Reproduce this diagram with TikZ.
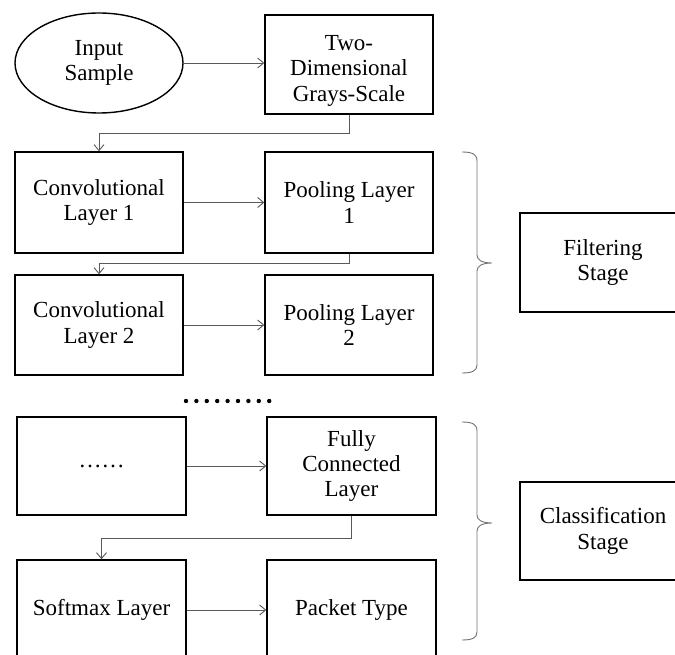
\documentclass[tikz,border=0pt]{standalone}
\usepackage{fontspec}
\setmainfont{Liberation Serif}
\usetikzlibrary{shapes.geometric,arrows.meta}
\begin{document}
\begin{tikzpicture}[x=1pt,y=-1pt,
 box/.style={draw=black,line width=1.4pt,minimum width=168pt,minimum height=99pt,inner sep=0pt,align=center,font=\fontsize{23}{25.5}\selectfont},
 conn/.style={draw=black!65,line width=0.9pt,-{Straight Barb[length=6pt,width=10pt]}},
 brc/.style={draw=black!55,line width=0.9pt}]
\useasboundingbox (0,0) rectangle (675,655);
\clip (0,0) rectangle (675,655);
% top row
\node[box,ellipse,minimum width=168pt,minimum height=100pt] (inp) at (99,63) {Input\\Sample};
\node[box] (two) at (349,64.5) {\raisebox{-6pt}[\height][\depth]{\setlength{\tabcolsep}{0pt}\begin{tabular}{c}Two-\\Dimensional\\Grays-Scale\end{tabular}}};
% filtering layers
\node[box,minimum height=101pt] (conv1) at (99,202.5) {Convolutional\\Layer 1};
\node[box,minimum height=101pt] (pool1) at (349,202.5) {Pooling Layer\\1};
\node[box,minimum height=100pt] (conv2) at (99,325) {Convolutional\\Layer 2};
\node[box,minimum height=100pt] (pool2) at (349,325) {Pooling Layer\\2};
% classification layers
\node[box,minimum width=169pt,minimum height=98pt] (more) at (101.5,466) {……};
\node[box,minimum width=169pt,minimum height=98pt] (fc) at (351.5,466) {Fully\\Connected\\Layer};
\node[box,minimum width=169pt,minimum height=100pt] (soft) at (101.5,610) {Softmax Layer};
\node[box,minimum width=169pt,minimum height=100pt] (pack) at (351.5,610) {Packet Type};
% stage boxes
\node[box,minimum width=166pt,minimum height=99pt] (filt) at (603,262.5) {Filtering\\Stage};
\node[box,minimum width=166pt,minimum height=98pt] (cls) at (603,531) {Classification\\Stage};
% dots
\foreach \i in {0,...,8} \fill (186+10.4*\i,401) circle (2.2pt);
% connectors
\draw[conn] (inp.east) -- (inp.east -| two.west);
\draw[conn] (two.south) -- ++(0,19) -| (conv1.north);
\draw[conn] (conv1) -- (pool1);
\draw[conn] (pool1.south) -- ++(0,10) -| (conv2.north);
\draw[conn] (conv2) -- (pool2);
\draw[conn] (more) -- (fc);
\draw[conn] (fc.south) -- ++(0,23) -| (soft.north);
\draw[conn] (soft) -- (pack);
% braces
\coordinate (t1) at (492,263);
\coordinate (t2) at (492,523);
\draw[brc] (462,152) .. controls (472,152) and (477,154) .. (477,161) -- (477,255)
  .. controls (477,260) and (482,263) .. (t1)
  .. controls (482,263) and (477,266) .. (477,271) -- (477,365)
  .. controls (477,371) and (472,373) .. (462,373);
\draw[brc] (462,422) .. controls (472,422) and (477,424) .. (477,431) -- (477,515)
  .. controls (477,520) and (482,523) .. (t2)
  .. controls (482,523) and (477,526) .. (477,531) -- (477,632)
  .. controls (477,638) and (472,640) .. (462,640);
\end{tikzpicture}
\end{document}
